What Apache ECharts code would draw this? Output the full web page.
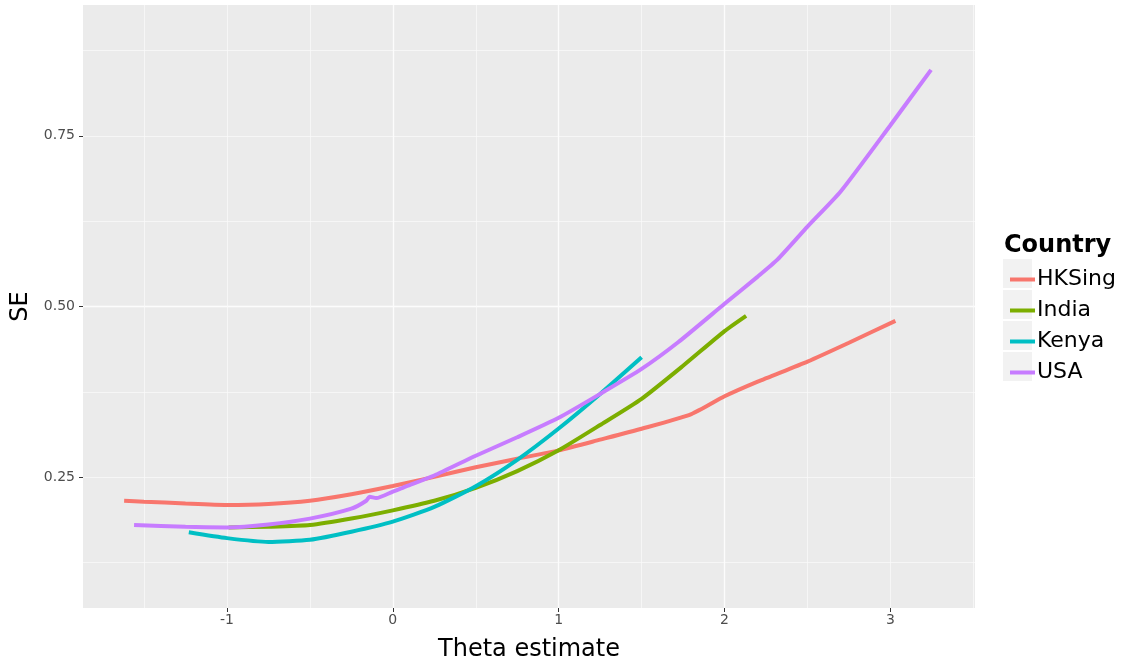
<!DOCTYPE html>
<html>
<head>
<meta charset="utf-8" />
<title>SE by Theta estimate</title>
<script src="https://cdn.jsdelivr.net/npm/echarts@6/dist/echarts.min.js"></script>
<style>
  html, body { margin: 0; padding: 0; background: #fff; }
  #chart { width: 1141px; height: 667px; }
</style>
</head>
<body>
<div id="chart"></div>
<script>
// values: [theta, SE]
var hksing = [
  [-1.62, 0.2156], [-1.5, 0.2142], [-1.25, 0.2115], [-1.0, 0.2094], [-0.75, 0.2108],
  [-0.5, 0.2156], [-0.25, 0.2252], [0, 0.2372], [0.25, 0.2505], [0.5, 0.2646],
  [0.75, 0.2770], [1.0, 0.2893], [1.25, 0.3050], [1.5, 0.3210], [1.8, 0.3425],
  [2.0, 0.3685], [2.2, 0.3900], [2.5, 0.4194], [2.75, 0.4470], [3.03, 0.4790]
];
var india = [
  [-0.99, 0.1765], [-0.75, 0.1775], [-0.5, 0.1800], [-0.25, 0.1895], [0, 0.2015],
  [0.25, 0.2155], [0.5, 0.2345], [0.75, 0.2590], [1.0, 0.2895], [1.25, 0.3265],
  [1.5, 0.3648], [1.75, 0.4132], [2.0, 0.4640], [2.13, 0.4864]
];
var kenya = [
  [-1.23, 0.1694], [-1.0, 0.1608], [-0.75, 0.1552], [-0.5, 0.1584], [-0.25, 0.1702],
  [0, 0.1850], [0.25, 0.2065], [0.5, 0.2369], [0.75, 0.2755], [1.0, 0.3214],
  [1.25, 0.3720], [1.5, 0.4256]
];
var usa = [
  [-1.56, 0.1800], [-1.25, 0.1773], [-1.0, 0.1765], [-0.75, 0.1808], [-0.5, 0.1894],
  [-0.25, 0.2040], [-0.16, 0.2156], [-0.14, 0.2215], [-0.10, 0.2195], [0, 0.2290],
  [0.05, 0.2335], [0.08, 0.2365], [0.25, 0.2525], [0.5, 0.2815], [0.75, 0.3085],
  [1.0, 0.3370], [1.25, 0.3720], [1.5, 0.4086], [1.72, 0.4476], [2.0, 0.5040],
  [2.2, 0.5438], [2.32, 0.5690], [2.5, 0.6170], [2.70, 0.6684], [3.0, 0.7655],
  [3.245, 0.8466]
];
var countries = ['HKSing', 'India', 'Kenya', 'USA'];
var colors = ['#F8766D', '#7CAE00', '#00BFC4', '#C77CFF'];
var xTicks = [-1, 0, 1, 2, 3];
var yTicks = [0.25, 0.5, 0.75];

var font = '"DejaVu Sans", Verdana, sans-serif';
var xMin = -1.868, xMax = 3.51, yMin = 0.0585, yMax = 0.9415;

var chart = echarts.init(document.getElementById('chart'));

function lineSeries(name, data, color) {
  return {
    name: name,
    type: 'line',
    data: data,
    xAxisIndex: 0,
    yAxisIndex: 0,
    showSymbol: false,
    symbol: 'none',
    smooth: 0.2,
    color: color,
    lineStyle: { width: 4, color: color },
    emphasis: { disabled: true },
    silent: true
  };
}

// grey boxes behind the legend keys, like ggplot's
var keyBoxes = countries.map(function (c, i) {
  return {
    type: 'rect',
    shape: { x: 1003, y: 259 + i * 31, width: 29, height: 29 },
    style: { fill: '#f2f2f2' },
    z: 0
  };
});

var option = {
  animation: false,
  backgroundColor: '#ffffff',
  textStyle: { fontFamily: font },
  title: {
    text: 'Country',
    left: 999,
    top: 229,
    textStyle: { fontSize: 24, fontWeight: 'bold', color: '#000', fontFamily: font }
  },
  graphic: keyBoxes,
  legend: {
    orient: 'vertical',
    left: 1005,
    top: 259,
    itemWidth: 25,
    itemHeight: 4,
    itemGap: 0,
    icon: 'rect',
    selectedMode: false,
    data: countries,
    textStyle: { fontSize: 22, color: '#000', lineHeight: 31, height: 31, fontFamily: font, padding: [0, 0, 0, -3] }
  },
  grid: {
    left: 83, right: 166, top: 5, bottom: 59,
    outerBoundsMode: 'none',
    containLabel: false,
    show: true, backgroundColor: '#ebebeb', borderWidth: 0
  },
  xAxis: [{
    type: 'value',
    min: xMin, max: xMax,
    minInterval: 1, maxInterval: 1,
    name: 'Theta estimate',
    nameLocation: 'middle',
    nameGap: 30,
    nameTextStyle: { fontSize: 24, color: '#000', fontFamily: font },
    axisLine: { show: false, onZero: false },
    axisTick: { show: true, length: 4, lineStyle: { color: '#333', width: 1 }, customValues: xTicks },
    axisLabel: { show: true, fontSize: 14, color: '#4d4d4d', margin: 5, customValues: xTicks, fontFamily: font },
    splitLine: { show: true, showMinLine: false, showMaxLine: false, lineStyle: { color: '#fff', width: 1.3 } }
  }, {
    type: 'value',
    min: xMin, max: xMax,
    minInterval: 0.5, maxInterval: 0.5,
    position: 'bottom',
    axisLine: { show: false, onZero: false },
    axisTick: { show: false },
    axisLabel: { show: false },
    splitLine: { show: true, showMinLine: false, showMaxLine: false, lineStyle: { color: '#fafafa', width: 0.7 } }
  }],
  yAxis: [{
    type: 'value',
    min: yMin, max: yMax,
    minInterval: 0.25, maxInterval: 0.25,
    name: 'SE',
    nameLocation: 'middle',
    nameGap: 50,
    nameTextStyle: { fontSize: 24, color: '#000', fontFamily: font },
    axisLine: { show: false, onZero: false },
    axisTick: { show: true, length: 4, lineStyle: { color: '#333', width: 1 }, customValues: yTicks },
    axisLabel: {
      show: true, fontSize: 14, color: '#4d4d4d', margin: 8, customValues: yTicks, fontFamily: font,
      formatter: function (v) { return v.toFixed(2); }
    },
    splitLine: { show: true, showMinLine: false, showMaxLine: false, lineStyle: { color: '#fff', width: 1.3 } }
  }, {
    type: 'value',
    min: yMin, max: yMax,
    minInterval: 0.125, maxInterval: 0.125,
    position: 'left',
    axisLine: { show: false, onZero: false },
    axisTick: { show: false },
    axisLabel: { show: false },
    splitLine: { show: true, showMinLine: false, showMaxLine: false, lineStyle: { color: '#fafafa', width: 0.7 } }
  }],
  series: [
    lineSeries(countries[0], hksing, colors[0]),
    lineSeries(countries[1], india, colors[1]),
    lineSeries(countries[2], kenya, colors[2]),
    lineSeries(countries[3], usa, colors[3])
  ]
};

chart.setOption(option);
</script>
</body>
</html>
